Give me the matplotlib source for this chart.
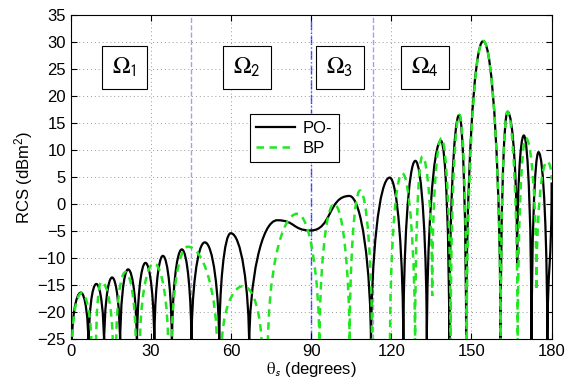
"""
RCS vs scattering angle: PO- against BP, with the four angular regions marked.
"""

import matplotlib
matplotlib.use("Agg")
import matplotlib.pyplot as plt
from matplotlib.path import Path
from matplotlib.patches import PathPatch
from matplotlib.lines import Line2D

plt.rcParams["font.family"] = ["Liberation Sans", "DejaVu Sans"]
plt.rcParams["mathtext.fontset"] = "custom"
plt.rcParams["mathtext.rm"] = "Liberation Sans"
plt.rcParams["mathtext.it"] = "Liberation Sans:italic"
plt.rcParams["mathtext.sf"] = "Liberation Sans"

# ── Data (lobe extrema) ──────────────────────────────────────────────
# kind: n = null (vertical tangent), p = peak / dip (horizontal tangent)
# nulls at -27 lie below the plot floor of -25

po_theta = [0.4, 3.8, 6.7, 9.6, 12.5, 15.5, 18.5, 21.5, 24.8, 28.0,
            31.3, 34.5, 37.9, 41.6, 45.2, 50.2, 55.6, 59.9, 66.8, 77.3,
            89.8, 104.3, 112.4, 119.4, 124.5, 129.0, 133.3, 138.6, 141.7, 145.4,
            148.0, 154.4, 160.9, 163.5, 167.1, 169.6, 172.5, 175.1, 178.4, 180.0]
po_rcs = [-27, -16.4, -27, -14.8, -27, -13.6, -27, -12.1, -27, -10.9,
          -27, -9.6, -27, -8.4, -27, -7.1, -27, -5.4, -27, -3.0,
          -4.9, 1.5, -27, 4.9, -27, 8.0, -27, 11.7, -27, 16.5,
          -27, 30.2, -27, 17.1, -11.3, 12.7, -27, 9.6, -27, 4.0]
po_kind = "npnpnpnpnpnpnpnpnpn" + "ppp" + "np" * 6 + "npnpnn"

bp_theta = [0.5, 4.1, 7.8, 9.5, 11.5, 15.8, 17.0, 20.5, 24.4, 25.9,
            31.2, 36.5, 37.8, 43.8, 54.8, 56.5, 64.6, 71.5, 73.8, 84.8,
            93.1, 98.6, 104.4, 108.3, 112.8, 119.5, 124.1, 128.9, 131.6, 135.3,
            138.8, 142.2, 145.5, 148.2, 154.4, 160.9, 163.5, 167.3, 170.4, 174.3,
            178.3, 180.0]
bp_rcs = [-27, -16.5, -27, -27, -14.4, -27, -27, -12.6, -27, -27,
          -11.0, -27, -27, -7.9, -27, -27, -15.2, -27, -27, -1.8,
          -27, 0.0, -27, 2.5, -27, -27, 5.7, -27, 8.8, -17.0,
          12.2, -27, 16.5, -27, 30.2, -27, 17.1, -27, 12.2, -16.0,
          7.9, 4.5]
bp_kind = "npn" * 6 + "npnpnpn" + "np" * 8 + "n"

region_theta = [45, 90, 113]
region_style = ["--", "-.", "--"]
region_color = ["#a0a0f4", "#3a3aff", "#a0a0f4"]

label_theta = [20.1, 65.9, 100.8, 132.7]
label_rcs = [25.3, 25.3, 25.3, 25.3]
label_text = [r"$\Omega_{\mathsf{1}}$", r"$\Omega_{\mathsf{2}}$",
              r"$\Omega_{\mathsf{3}}$", r"$\Omega_{\mathsf{4}}$"]


def lobe_path(xs, ys, kinds, a=0.55, b=0.55):
    """Smooth path through lobe extrema using cubic Bezier segments."""
    verts = [(xs[0], ys[0])]
    codes = [Path.MOVETO]
    for i in range(1, len(xs)):
        x0, y0, k0 = xs[i - 1], ys[i - 1], kinds[i - 1]
        x1, y1, k1 = xs[i], ys[i], kinds[i]
        dx, dy = x1 - x0, y1 - y0
        if k0 == "n" and k1 == "n" and y0 <= -25 and y1 <= -25:
            verts.append((x1, y1))
            codes.append(Path.LINETO)
            continue
        c1 = (x0, y0 + a * dy) if k0 == "n" else (x0 + b * dx, y0)
        c2 = (x1, y1 - a * dy) if k1 == "n" else (x1 - b * dx, y1)
        verts += [c1, c2, (x1, y1)]
        codes += [Path.CURVE4] * 3
    return Path(verts, codes)


fig = plt.figure(figsize=(5.76, 3.87), dpi=100)
ax = fig.add_axes([0.1227, 0.124, 0.835, 0.837])

for xv, ls, col in zip(region_theta, region_style, region_color):
    ax.axvline(xv, color=col, ls=ls, lw=1.0, zorder=1.5)

ax.add_patch(PathPatch(lobe_path(po_theta, po_rcs, po_kind), fill=False,
                       ec="black", lw=1.6, zorder=3, capstyle="butt"))
ax.add_patch(PathPatch(lobe_path(bp_theta, bp_rcs, bp_kind), fill=False,
                       ec="#22e622", lw=1.8, ls=(0, (3, 2.2)), zorder=4))

for xv, yv, txt in zip(label_theta, label_rcs, label_text):
    ax.text(xv, yv, txt, ha="center", va="center", fontsize=17,
            math_fontfamily="stix", zorder=5,
            bbox=dict(boxstyle="square,pad=0.42", fc="white", ec="black", lw=0.8))

handles = [Line2D([], [], color="black", lw=1.6),
           Line2D([], [], color="#22e622", lw=1.8, ls=(0, (3, 2.2)))]
leg = ax.legend(handles, ["PO-", "BP"], loc="upper left",
                bbox_to_anchor=(0.355, 0.72), fontsize=12, fancybox=False,
                framealpha=1, edgecolor="black", handlelength=2.3,
                borderpad=0.4, labelspacing=0.3, handletextpad=0.5)
leg.get_frame().set_linewidth(0.8)
leg.set_zorder(6)

ax.set_xlim(0, 180)
ax.set_ylim(-25, 35)
ax.set_xticks(range(0, 181, 30))
ax.set_yticks(range(-25, 36, 5))
ax.grid(True, color="#9a9a9a", ls=(0, (1, 3)), lw=0.7)
ax.tick_params(direction="in", top=True, right=True, labelsize=12, length=4)
for sp in ax.spines.values():
    sp.set_linewidth(0.8)

ax.set_xlabel(r"$\mathrm{\theta}_{\mathsf{s}}$ (degrees)", fontsize=12,
              math_fontfamily="stix", labelpad=1)
ax.set_ylabel(r"RCS (dBm$^2$)", fontsize=12, labelpad=2)

fig.savefig("out.png", dpi=100)
